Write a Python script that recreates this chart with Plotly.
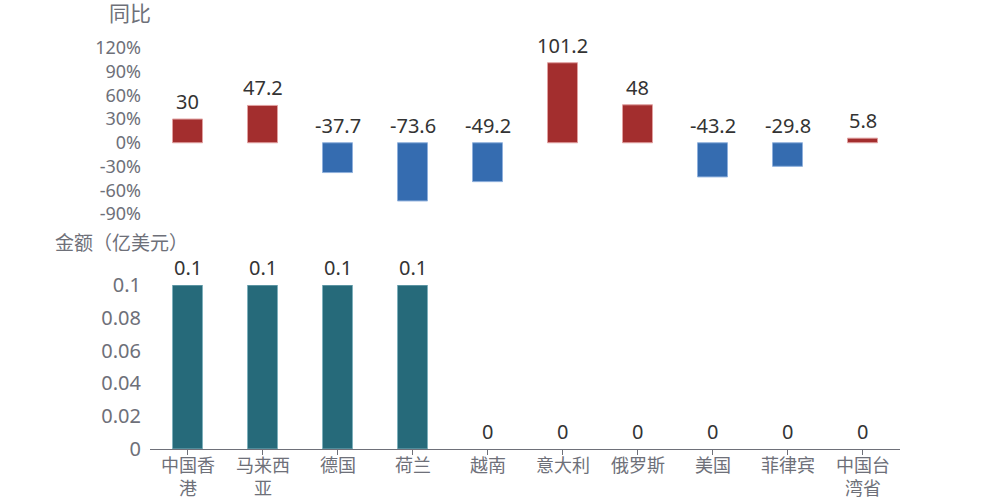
import plotly.graph_objects as go
from plotly.subplots import make_subplots

categories = ["中国香<br>港", "马来西<br>亚", "德国", "荷兰", "越南", "意大利", "俄罗斯", "美国", "菲律宾", "中国台<br>湾省"]
yoy = [30, 47.2, -37.7, -73.6, -49.2, 101.2, 48, -43.2, -29.8, 5.8]
amount = [0.1, 0.1, 0.1, 0.1, 0, 0, 0, 0, 0, 0]
yoy_ticks = [120, 90, 60, 30, 0, -30, -60, -90]
amt_ticks = [0, 0.02, 0.04, 0.06, 0.08, 0.1]

RED, RED_EDGE = "#a32e2e", "#e0a0a0"
BLUE, BLUE_EDGE = "#356cb0", "#8fb0dc"
TEAL, TEAL_EDGE = "#266a7a", "#7fb0bc"
GRAY = "#6e7079"
FONT = "Noto Sans, Noto Sans CJK SC"

fig = make_subplots(rows=2, cols=1, shared_xaxes=False, vertical_spacing=0.05)

fig.add_trace(go.Bar(
    x=categories, y=yoy, width=0.4,
    marker=dict(color=[RED if v >= 0 else BLUE for v in yoy],
                line=dict(color=[RED_EDGE if v >= 0 else BLUE_EDGE for v in yoy], width=1)),
    showlegend=False, hoverinfo="skip"), row=1, col=1)

fig.add_trace(go.Bar(
    x=categories, y=amount, width=0.4,
    marker=dict(color=TEAL, line=dict(color=TEAL_EDGE, width=[1 if v else 0 for v in amount])),
    showlegend=False, hoverinfo="skip"), row=2, col=1)

# value labels above the bar base / top
for c, v in zip(categories, yoy):
    fig.add_annotation(x=c, y=max(v, 0), xref="x", yref="y", text=f"{v:g}",
                       showarrow=False, yanchor="bottom", yshift=3, borderpad=0,
                       font=dict(size=20, color="#333333", family=FONT))
for c, v in zip(categories, amount):
    fig.add_annotation(x=c, y=v, xref="x2", yref="y2", text=f"{v:g}",
                       showarrow=False, yanchor="bottom", yshift=3, borderpad=0,
                       font=dict(size=20, color="#333333", family=FONT))

# category labels under the lower axis, one line at a time for tight line spacing
for c in categories:
    for i, line in enumerate(c.split("<br>")):
        fig.add_annotation(x=c, y=0, xref="x2", yref="y2", text=line,
                           showarrow=False, yanchor="middle", yshift=-16 - 23 * i,
                           borderpad=0,
                           font=dict(size=18, color=GRAY, family=FONT))

fig.update_layout(
    width=1000, height=500,
    margin=dict(l=150, r=100, t=20, b=51, autoexpand=False),
    plot_bgcolor="white", paper_bgcolor="white",
    font=dict(family=FONT, color=GRAY, size=18),
    bargap=0.6,
)
fig.update_yaxes(domain=[0.548, 0.935], range=[-90, 120], tickvals=yoy_ticks,
                 ticktext=[f"{t}%" for t in yoy_ticks], showgrid=False, zeroline=False,
                 showline=False, ticks="", ticklabelstandoff=8, automargin=False,
                 tickfont=dict(size=18, color=GRAY), row=1, col=1)
fig.update_xaxes(showticklabels=False, showline=False, showgrid=False, ticks="",
                 automargin=False, row=1, col=1)

fig.update_yaxes(domain=[0, 0.382], range=[0, 0.1], tickvals=amt_ticks,
                 ticktext=[f"{t:g}" for t in amt_ticks], showgrid=False, zeroline=False,
                 showline=False, ticks="", ticklabelstandoff=8, automargin=False,
                 tickfont=dict(size=20, color=GRAY), row=2, col=1)
fig.update_xaxes(showline=True, linecolor=GRAY, linewidth=1, ticks="outside", ticklen=5,
                 tickcolor=GRAY, showgrid=False, automargin=False, showticklabels=False,
                 row=2, col=1)

# axis titles, given in picture pixels then converted to paper coordinates
titles = [("同比", 130, 13, 21), ("金额（亿美元）", 121, 243, 19)]
for txt, px, py, sz in titles:
    fig.add_annotation(text=txt, x=(px - 150) / 750, y=(449 - py) / 429,
                       xref="paper", yref="paper", showarrow=False,
                       xanchor="center", yanchor="middle",
                       font=dict(size=sz, color=GRAY, family=FONT))

fig.write_html("out.html")
